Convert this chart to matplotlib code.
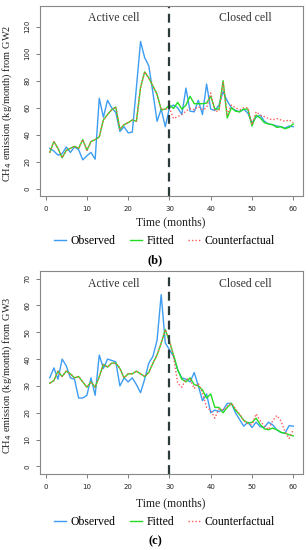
import numpy as np
import matplotlib
matplotlib.use("Agg")
import matplotlib.pyplot as plt
from matplotlib.lines import Line2D

months = np.arange(1, 61)

# GW2 (panel b)
gw2_observed = [30, 28, 25, 26, 31, 27, 31, 29, 21.5, 24.5, 27, 22, 67, 53, 65.5, 60, 56.5, 42.5, 46, 41.5,
                42, 75, 109, 97, 91, 71, 50, 59, 46, 60, 62, 60, 55, 74.5, 57.5, 57, 65.5, 55, 77.5, 59,
                58, 62, 72, 65, 60, 58, 57, 59, 56, 49, 53, 54.5, 50, 48, 47.5, 46.5, 46, 45, 46.5, 46]
gw2_fitted = [27, 35, 30, 23, 28.5, 30, 31.5, 30, 36.5, 28.5, 35, 36.5, 38.5, 51, 55, 58.5, 60.5, 44, 47.5, 49,
              51, 50, 75, 86.5, 82, 76, 70, 58.5, 59, 62, 59.5, 64, 59, 62, 68.5, 63, 63, 63, 63.5, 68.5,
              59, 59, 80, 52.5, 60, 57.5, 57, 59, 59, 46.5, 54.5, 52.5, 49, 48, 47.5, 45.5, 46, 44.5, 45.5, 48]
gw2_counter = gw2_fitted[:29] + [60, 52, 53.5, 55, 57.5, 59.5, 58.5, 61, 58.5, 60, 71,
                                 57.5, 57.5, 78.5, 55, 62, 60, 58.5, 60, 60, 47.5,
                                 57, 54.5, 53.5, 52, 51, 52, 51, 50, 51, 49]

# GW3 (panel c)
gw3_observed = [33, 36.7, 32.5, 40, 37.5, 33, 32.5, 25.5, 25.5, 26.5, 33, 26.5, 41.5, 36.5, 40, 39.5, 39, 30, 33, 31.5,
                33, 30.5, 27.5, 32.5, 38.5, 41, 47, 64, 46, 43.5, 41, 36, 33, 32.5, 31.5, 35, 30, 24.5, 27, 20,
                21, 20.5, 21, 23.5, 23.5, 20, 17.5, 15, 16.5, 14.5, 16.5, 14.8, 14.6, 16.5, 15.5, 13.7, 12.7, 12.4, 15.2, 15]
gw3_fitted = [31, 32, 35.5, 33.5, 35.5, 34.5, 33, 33.5, 31.5, 29.5, 31.5, 29.5, 33.5, 38, 37, 38.5, 38.5, 36.5, 33, 34.5,
              34.5, 35.5, 34.5, 33.5, 35, 38.5, 41.5, 46, 51, 46.5, 41.5, 36, 32.5, 31.5, 33, 30.5, 30, 28.5, 25.5, 27,
              22, 22, 20, 22, 23.5, 21, 19.3, 17.2, 16.2, 16.4, 18, 15.6, 14, 13.7, 14.3, 13.7, 12.7, 12.4, 11.8, 11.4]
gw3_counter = gw3_fitted[:29] + [47, 41, 31, 29.5, 32.5, 32.5, 29, 31, 27.5, 22, 21,
                                 18, 21.5, 21, 22.5, 23.6, 21.5, 19.5, 17, 16, 15.6,
                                 19.6, 17, 15, 13.7, 17, 19, 17, 13, 10.4, 13.7]

c_obs = "#3d9df2"
c_fit = "#22dd22"
c_cf = "#ff5a5a"
serif = "Liberation Serif"

fig = plt.figure(figsize=(3.08, 5.5), dpi=100)


def draw_panel(ax, obs, fit, cf, ymax, ystep, well, letter, ytext):
    ax.plot(months, obs, color=c_obs, lw=1.0)
    ax.plot(months, fit, color=c_fit, lw=1.0)
    ax.plot(months, cf, color=c_cf, lw=1.0, linestyle=(0, (1, 1.5)))
    ax.axvline(30, color="#2b3a3a", lw=1.6, linestyle=(0, (4, 2.5)))

    pad = 0.04
    ax.set_xlim(1 - 59 * pad, 60 + 59 * pad)
    ax.set_ylim(-ymax * pad, ymax * (1 + pad))
    ax.set_xticks(range(0, 61, 10))
    ax.set_yticks(np.arange(0, ymax + 1, ystep))
    ax.tick_params(length=3, width=0.6, color="#666666", labelsize=5, pad=4, labelcolor="#222222")
    for lab in ax.get_yticklabels():
        lab.set_rotation(90)
        lab.set_va("center")
    for s in ax.spines.values():
        s.set_color("#888888")
        s.set_linewidth(0.8)

    ax.text(16.5, ymax * 0.97, "Active cell", family=serif, fontsize=8.5, ha="center", va="center", color="#333333")
    ax.text(48.4, ymax * 0.97, "Closed cell", family=serif, fontsize=8.5, ha="center", va="center", color="#333333")

    pos = ax.get_position()
    fig.text(0.025, (pos.y0 + pos.y1) / 2 - 0.005, "CH$_4$ emission (kg/month) from " + well, family=serif,
             fontsize=7.5, rotation=90, ha="center", va="center", color="#222222")
    fig.text(0.555, ytext[0], "Time (months)", family=serif, fontsize=8.5, ha="center", va="center", color="#222222")
    fig.text(0.505, ytext[2], letter, family=serif, fontsize=9, fontweight="bold", ha="center", va="center")

    handles = [Line2D([], [], color=c_obs, lw=1.0),
               Line2D([], [], color=c_fit, lw=1.0),
               Line2D([], [], color=c_cf, lw=1.0, linestyle=(0, (1, 1.5)))]
    fig.legend(handles, ["Observed", "Fitted", "Counterfactual"], loc="center", bbox_to_anchor=(0.535, ytext[1]),
               ncol=3, frameon=False, handlelength=1.0, handletextpad=0.4, columnspacing=1.2,
               prop={"family": serif, "size": 8.5})


ax_b = fig.add_axes([40 / 308, 1 - 196 / 550, 263 / 308, 190 / 550])
ax_c = fig.add_axes([40 / 308, 1 - 474 / 550, 263 / 308, 203 / 550])

draw_panel(ax_b, gw2_observed, gw2_fitted, gw2_counter, 130, 20, "GW2", "(b)",
           (1 - 222.7 / 550, 1 - 240.7 / 550, 1 - 260.7 / 550))
draw_panel(ax_c, gw3_observed, gw3_fitted, gw3_counter, 70, 10, "GW3", "(c)",
           (1 - 503 / 550, 1 - 521.7 / 550, 1 - 541.7 / 550))

fig.savefig("out.png", dpi=100)
